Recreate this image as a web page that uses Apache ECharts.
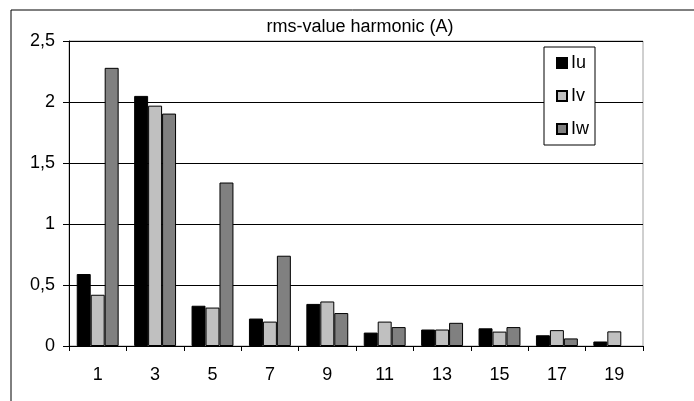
<!DOCTYPE html>
<html>
<head>
<meta charset="utf-8">
<script src="https://cdn.jsdelivr.net/npm/echarts@6/dist/echarts.min.js"></script>
<style>
html,body{margin:0;padding:0;background:#fff;}
#main{width:694px;height:401px;}
</style>
</head>
<body>
<div id="main"></div>
<script>
const categories = ['1','3','5','7','9','11','13','15','17','19'];
const seriesNames = ['Iu','Iv','Iw'];
const iu = [0.59, 2.05, 0.33, 0.225, 0.345, 0.11, 0.135, 0.145, 0.088, 0.037];
const iv = [0.42, 1.97, 0.315, 0.20, 0.365, 0.20, 0.135, 0.118, 0.13, 0.12];
const iw = [2.28, 1.905, 1.34, 0.74, 0.27, 0.155, 0.19, 0.155, 0.062, null];
const yTicks = [0, 0.5, 1, 1.5, 2, 2.5];
const titleText = 'rms-value harmonic (A)';

const colors = ['#000000', '#c0c0c0', '#808080'];
const font = 'Liberation Sans, Arial, sans-serif';
const chart = echarts.init(document.getElementById('main'), null, {renderer: 'canvas'});
const dataSets = [iu, iv, iw];

chart.setOption({
  animation: false,
  backgroundColor: '#ffffff',
  title: {
    text: titleText,
    left: 360, top: 18, textAlign: 'center', padding: 0,
    textStyle: {fontFamily: font, fontSize: 18, fontWeight: 'normal', color: '#000'}
  },
  legend: {
    orient: 'vertical',
    left: 544, top: 47,
    width: 50,
    padding: [7, 6, 7, 12],
    itemGap: 15,
    itemWidth: 10, itemHeight: 10,
    icon: 'rect',
    backgroundColor: '#fff',
    borderColor: '#000', borderWidth: 1,
    textStyle: {fontFamily: font, fontSize: 18, color: '#000', padding: [0,0,0,-1]},
    data: seriesNames
  },
  grid: {left: 69, right: 51, top: 41, bottom: 55, show: true, borderColor: '#a0a0a0', borderWidth: 1, backgroundColor: 'transparent'},
  xAxis: {
    type: 'category',
    data: categories,
    axisLine: {lineStyle: {color: '#000', width: 1}},
    axisTick: {show: true, length: 5, lineStyle: {color: '#000'}},
    axisLabel: {fontFamily: font, fontSize: 18, color: '#000', margin: 20},
    splitLine: {show: false}
  },
  yAxis: {
    type: 'value',
    min: 0, max: 2.5, interval: 0.5,
    axisLine: {show: true, lineStyle: {color: '#000', width: 1}},
    axisTick: {show: true, length: 6, lineStyle: {color: '#000'}},
    axisLabel: {fontFamily: font, fontSize: 18, color: '#000', margin: 14,
      formatter: v => String(v).replace('.', ',')},
    splitLine: {show: true, lineStyle: {color: '#000', width: 1}}
  },
  series: seriesNames.map((n, i) => ({
    name: n,
    type: 'bar',
    data: dataSets[i],
    barGap: '0%',
    barCategoryGap: '27%',
    itemStyle: {color: colors[i], borderColor: '#000', borderWidth: 1}
  })),
  graphic: [{
    type: 'polyline',
    shape: {points: [[11, 401], [11, 10], [694, 10]]},
    style: {stroke: '#000', lineWidth: 1, fill: null},
    silent: true
  }]
});
</script>
</body>
</html>
